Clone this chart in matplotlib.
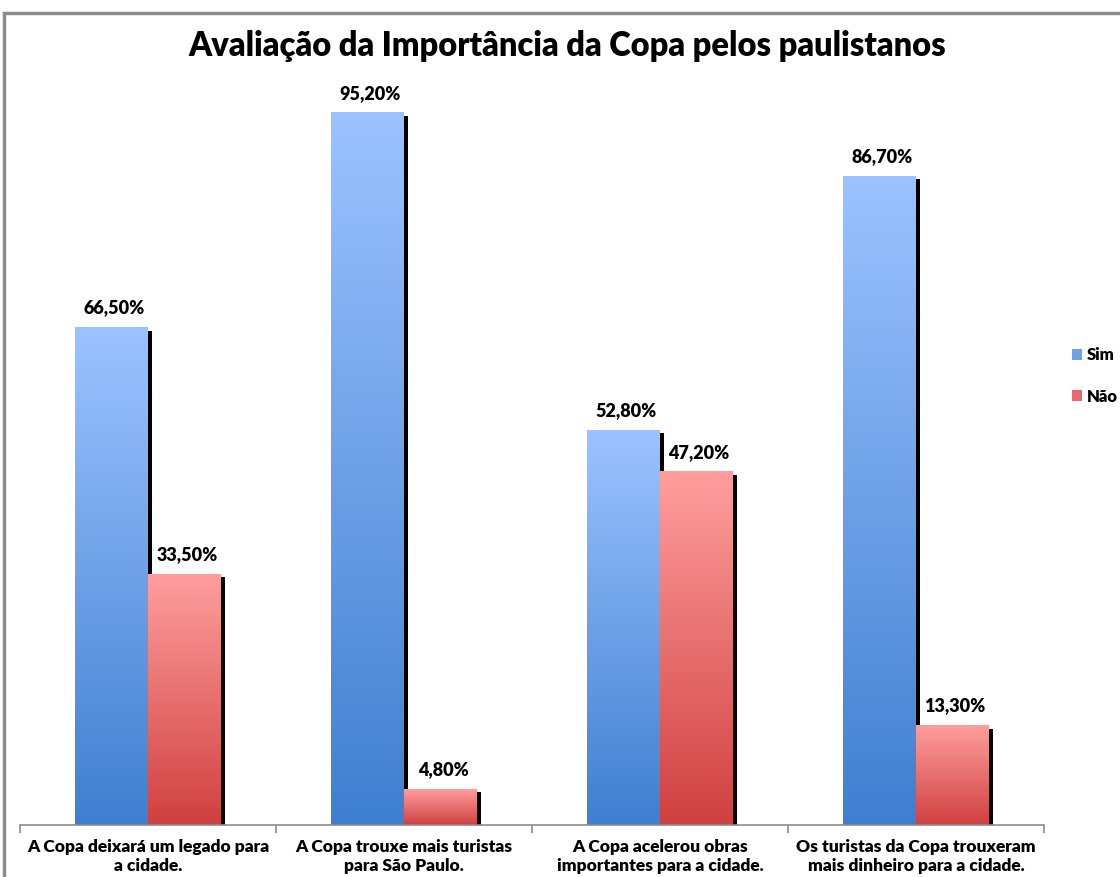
import numpy as np
import matplotlib.pyplot as plt
from matplotlib.patches import Rectangle, Patch
from matplotlib.colors import LinearSegmentedColormap

categories = ["A Copa deixará um legado para\na cidade.",
              "A Copa trouxe mais turistas\npara São Paulo.",
              "A Copa acelerou obras\nimportantes para a cidade.",
              "Os turistas da Copa trouxeram\nmais dinheiro para a cidade."]
sim = [66.5, 95.2, 52.8, 86.7]
nao = [33.5, 4.8, 47.2, 13.3]
labels_sim = ["66,50%", "95,20%", "52,80%", "86,70%"]
labels_nao = ["33,50%", "4,80%", "47,20%", "13,30%"]

plt.rcParams['font.family'] = ['Lato', 'DejaVu Sans']

W, H = 1120, 877
fig = plt.figure(figsize=(W / 100, H / 100), dpi=100)
ax = fig.add_axes([20 / W, 52 / H, (1044 - 20) / W, (825 - 77) / H])

# outer frame of the original chart (partly cut off)
fig.patches.append(Rectangle((4 / W, -0.1), 1.2, (877 - 13) / H + 0.1,
                             transform=fig.transFigure, fill=False,
                             edgecolor='#8c8c8c', linewidth=2.5, zorder=0))

cmap_sim = LinearSegmentedColormap.from_list('sim', ['#3f7fd0', '#9cc3ff'])
cmap_nao = LinearSegmentedColormap.from_list('nao', ['#d04040', '#ff9e9e'])
grad = np.linspace(0, 1, 256).reshape(-1, 1)

bw = 0.285
x = np.arange(len(categories))
shadow_dx = 0.016
for i in range(len(categories)):
    for off, val, cmap, lab in [(-bw, sim[i], cmap_sim, labels_sim[i]),
                                (0, nao[i], cmap_nao, labels_nao[i])]:
        x0 = x[i] + off
        ax.add_patch(Rectangle((x0 + shadow_dx, 0), bw, val - 0.4,
                               facecolor='black', edgecolor='none', zorder=1))
        ax.imshow(grad, cmap=cmap, aspect='auto', origin='lower',
                  extent=(x0, x0 + bw, 0, val), zorder=2)
        ax.text(x0 + bw / 2 + 0.01, val + 1.5, lab, ha='center', va='bottom',
                fontsize=13, fontweight='heavy', zorder=3)

ax.set_xlim(-0.5, len(categories) - 0.5)
ax.set_ylim(0, 100)
ax.set_xticks(x)
ax.set_xticklabels(categories, fontsize=12.5, fontweight='heavy', linespacing=1.25)
ax.tick_params(axis='x', length=0, pad=10)
ax.set_xticks(np.arange(len(categories) + 1) - 0.5, minor=True)
ax.tick_params(axis='x', which='minor', length=6, color='#8c8c8c', width=1.2)
ax.set_yticks([])
for s in ['top', 'right', 'left']:
    ax.spines[s].set_visible(False)
ax.spines['bottom'].set_color('#8c8c8c')
ax.spines['bottom'].set_linewidth(1.2)

fig.text(567 / W, 1 - 46 / H, "Avaliação da Importância da Copa pelos paulistanos",
         ha='center', va='center', fontsize=23.5, fontweight='heavy')

handles = [Patch(facecolor='#6fa0e8', edgecolor='none'),
           Patch(facecolor='#e86a6a', edgecolor='none')]
fig.legend(handles, ["Sim", "Não"], loc='center left',
           bbox_to_anchor=(1072 / W, 1 - 376 / H), frameon=False,
           prop={'size': 12, 'weight': 'heavy'}, handlelength=0.6,
           handleheight=0.6, handletextpad=0.3, labelspacing=1.5,
           borderpad=0, borderaxespad=0)

fig.savefig("out.png", dpi=100)
